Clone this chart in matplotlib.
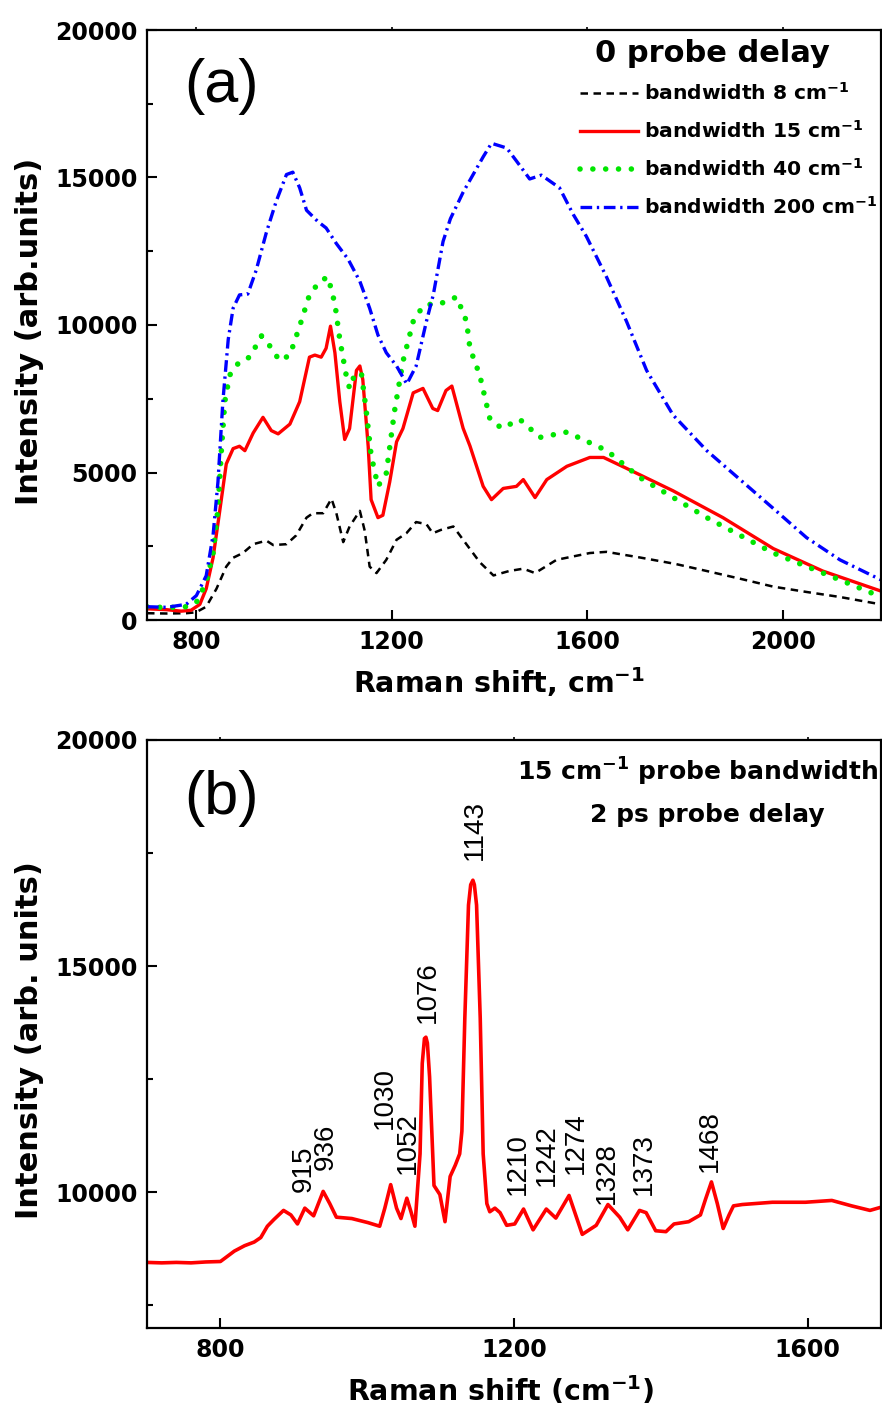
import matplotlib
matplotlib.use('Agg')
import matplotlib.pyplot as plt
from matplotlib.ticker import MultipleLocator

# panel (a): spectra at 0 probe delay for several probe bandwidths
x_bw8 = [700, 740, 780, 800, 821, 842, 862, 876, 896, 917, 944, 958, 985, 1005,
         1026, 1039, 1060, 1077, 1087, 1101, 1114, 1135, 1145, 1155, 1169, 1189,
         1210, 1230, 1250, 1271, 1284, 1300, 1326, 1346, 1380, 1408, 1440, 1469,
         1493, 1537, 1605, 1639, 1707, 1780, 1844, 1912, 1980, 2048, 2116, 2200]
y_bw8 = [230, 220, 230, 260, 450, 1060, 1810, 2110, 2270, 2570, 2690, 2540, 2570, 2870,
         3470, 3620, 3620, 4110, 3620, 2640, 3170, 3700, 3020, 1810, 1590, 2040,
         2720, 2940, 3320, 3250, 2940, 3050, 3170, 2720, 1960, 1510, 1660, 1740,
         1590, 2040, 2270, 2310, 2120, 1900, 1660, 1400, 1130, 950, 780, 530]

x_bw15 = [700, 740, 770, 790, 808, 821, 835, 848, 862, 876, 889, 900, 917, 937, 954,
          968, 992, 1012, 1032, 1043, 1056, 1066, 1075, 1084, 1094, 1104, 1114, 1128,
          1135, 1141, 1152, 1158, 1172, 1182, 1196, 1210, 1223, 1244, 1264, 1284, 1294,
          1311, 1323, 1346, 1360, 1387, 1404, 1428, 1455, 1469, 1493, 1517, 1558, 1605,
          1633, 1680, 1775, 1877, 1980, 2081, 2200]
y_bw15 = [380, 350, 300, 330, 530, 1060, 2110, 3620, 5290, 5810, 5890, 5740, 6340, 6870, 6420,
          6310, 6640, 7400, 8910, 8980, 8910, 9210, 9960, 9060, 7400, 6120, 6490, 8460,
          8610, 8150, 5890, 4080, 3470, 3550, 4680, 6040, 6490, 7700, 7850, 7170, 7100,
          7780, 7930, 6500, 5900, 4530, 4080, 4460, 4530, 4760, 4150, 4760, 5210, 5510,
          5510, 5140, 4380, 3470, 2420, 1660, 980]

x_bw40 = [700, 740, 780, 801, 821, 835, 845, 852, 859, 869, 889, 910, 934, 951, 971,
          992, 1012, 1032, 1053, 1070, 1084, 1094, 1107, 1114, 1124, 1138, 1148, 1158,
          1172, 1189, 1206, 1223, 1244, 1264, 1284, 1299, 1333, 1353, 1360, 1380, 1401,
          1425, 1462, 1503, 1558, 1640, 1707, 1844, 1980, 2116, 2200]
y_bw40 = [450, 420, 450, 600, 1280, 2260, 3780, 5740, 7400, 8300, 8760, 8910, 9630, 9290, 8790,
          8980, 9960, 11020, 11480, 11630, 10720, 9510, 8300, 7850, 8300, 8380, 7100, 5590,
          4530, 4980, 7100, 8760, 10120, 10640, 10720, 10720, 10950, 10120, 9210, 8300, 6800,
          6500, 6800, 6190, 6370, 5740, 4830, 3470, 2270, 1360, 785]

x_bw200 = [700, 740, 780, 801, 821, 835, 845, 855, 866, 876, 889, 906, 923, 944, 964,
           985, 998, 1012, 1026, 1049, 1066, 1087, 1111, 1135, 1155, 1172, 1189, 1210,
           1231, 1250, 1271, 1285, 1305, 1320, 1346, 1387, 1404, 1435, 1455, 1482, 1506,
           1543, 1571, 1598, 1639, 1680, 1721, 1775, 1844, 1912, 1980, 2048, 2116, 2200]
y_bw200 = [450, 430, 530, 830, 1500, 2870, 4680, 7400, 9510, 10570, 11020, 11050, 11850, 13140, 14190,
           15100, 15180, 14650, 13890, 13510, 13290, 12760, 12230, 11480, 10570, 9660, 9060, 8610,
           8000, 8610, 10120, 11020, 12830, 13600, 14500, 15700, 16160, 16000, 15560, 14950, 15080,
           14650, 13750, 13000, 11630, 10120, 8460, 6950, 5740, 4760, 3780, 2790, 2040, 1360]

# panel (b): 15 cm-1 bandwidth, 2 ps probe delay
x_b = [700, 720, 740, 760, 780, 800, 805, 819, 833, 846, 855, 864, 873, 886, 896, 905, 915,
       927, 940, 949, 958, 979, 1001, 1017, 1024, 1032, 1040, 1046, 1054, 1060, 1065, 1072,
       1075, 1078, 1080, 1082, 1085, 1091, 1099, 1106, 1113, 1120, 1126, 1129, 1133, 1138,
       1141, 1144, 1146, 1149, 1154, 1158, 1163, 1167, 1174, 1181, 1190, 1201, 1213, 1226,
       1244, 1257, 1275, 1293, 1312, 1328, 1344, 1355, 1371, 1380, 1393, 1407, 1418, 1438,
       1454, 1461, 1469, 1477, 1485, 1493, 1499, 1511, 1552, 1597, 1633, 1660, 1685, 1700]
y_b = [8450, 8440, 8450, 8440, 8460, 8470, 8530, 8700, 8820, 8900, 9000, 9250, 9400, 9600, 9500,
       9300, 9650, 9480, 10020, 9750, 9450, 9420, 9330, 9250, 9650, 10170, 9650, 9420, 9870,
       9550, 9250, 10850, 12850, 13400, 13430, 13300, 12550, 10150, 9950, 9350, 10350, 10600,
       10850, 11350, 13850, 16350, 16800, 16900, 16800, 16350, 13850, 10850, 9750, 9570, 9650,
       9550, 9270, 9300, 9630, 9170, 9630, 9430, 9930, 9070, 9270, 9730, 9450, 9170, 9600,
       9550, 9150, 9130, 9300, 9350, 9500, 9850, 10230, 9750, 9200, 9500, 9700, 9730, 9780,
       9780, 9820, 9700, 9600, 9670]

peak_labels = ['915', '936', '1030', '1052', '1076', '1143', '1210', '1242', '1274', '1328', '1373', '1468']
peak_label_x = [913, 944, 1024, 1055, 1083, 1147, 1205, 1245, 1284, 1326, 1377, 1467]
peak_label_y = [10000, 10500, 11400, 10400, 13750, 17350, 9950, 10150, 10400, 9750, 9950, 10450]

plt.rcParams['font.family'] = ['DejaVu Sans']
plt.rcParams['font.weight'] = 'bold'
plt.rcParams['axes.labelweight'] = 'bold'
plt.rcParams['mathtext.default'] = 'bf'

fig = plt.figure(figsize=(8.82, 14.12), dpi=100)
W, H = 882, 1412
ax1 = fig.add_axes([147 / W, 1 - 620 / H, 734 / W, 590 / H])
ax2 = fig.add_axes([147 / W, 1 - 1328 / H, 734 / W, 588 / H])

ax1.plot(x_bw8, y_bw8, color='black', lw=1.8, linestyle=(0, (3.0, 2.2)),
         label='bandwidth 8 cm$^{-1}$')
ax1.plot(x_bw15, y_bw15, color='red', lw=2.4, label='bandwidth 15 cm$^{-1}$')
ax1.plot(x_bw40, y_bw40, color='#00e600', lw=4.0, linestyle=(0, (0.01, 2.3)),
         dash_capstyle='round', label='bandwidth 40 cm$^{-1}$')
ax1.plot(x_bw200, y_bw200, color='blue', lw=2.4, linestyle=(0, (3.5, 1.4, 0.7, 1.4)),
         label='bandwidth 200 cm$^{-1}$')

ax1.set_xlim(700, 2200)
ax1.set_ylim(0, 20000)
ax1.xaxis.set_major_locator(MultipleLocator(400))
ax1.yaxis.set_major_locator(MultipleLocator(5000))
ax1.yaxis.set_minor_locator(MultipleLocator(2500))
ax1.set_xlabel('Raman shift, cm$^{-1}$', fontsize=20.5)
ax1.set_ylabel('Intensity (arb.units)', fontsize=22)
ax1.xaxis.set_label_coords(0.48, -0.076)
ax1.yaxis.set_label_coords(-0.14, 0.49)
ax1.text(0.102, 0.905, '(a)', transform=ax1.transAxes, fontsize=44,
         family='Liberation Sans', weight='normal', ha='center', va='center')
ax1.text(0.77, 0.96, '0 probe delay', transform=ax1.transAxes, fontsize=22,
         ha='center', va='center')
ax1.legend(loc='upper left', bbox_to_anchor=(0.59, 0.912), frameon=False,
           fontsize=14.6, handlelength=2.85, handletextpad=0.3, labelspacing=0.8,
           borderaxespad=0, borderpad=0)

ax2.plot(x_b, y_b, color='red', lw=2.6)
for lab, lx, ly in zip(peak_labels, peak_label_x, peak_label_y):
    ax2.text(lx, ly, lab, rotation=90, ha='center', va='bottom', fontsize=20,
             family=['Liberation Sans Narrow', 'Liberation Sans'], weight='normal')
ax2.set_xlim(700, 1700)
ax2.set_ylim(7000, 20000)
ax2.xaxis.set_major_locator(MultipleLocator(400))
ax2.yaxis.set_major_locator(MultipleLocator(5000))
ax2.yaxis.set_minor_locator(MultipleLocator(2500))
ax2.set_xlabel('Raman shift (cm$^{-1}$)', fontsize=20.5)
ax2.set_ylabel('Intensity (arb. units)', fontsize=22)
ax2.xaxis.set_label_coords(0.482, -0.078)
ax2.yaxis.set_label_coords(-0.14, 0.49)
ax2.text(0.102, 0.9, '(b)', transform=ax2.transAxes, fontsize=44,
         family='Liberation Sans', weight='normal', ha='center', va='center')
ax2.text(0.75, 0.945, '15 cm$^{-1}$ probe bandwidth', transform=ax2.transAxes,
         fontsize=18, ha='center', va='center')
ax2.text(0.763, 0.872, '2 ps probe delay', transform=ax2.transAxes,
         fontsize=18, ha='center', va='center')

for ax in (ax1, ax2):
    for sp in ax.spines.values():
        sp.set_linewidth(1.6)
    ax.tick_params(axis='both', which='major', direction='in', length=7, width=1.5,
                   labelsize=17, pad=7)
    ax.tick_params(axis='y', which='minor', direction='in', length=4, width=1.5)
    for t in ax.get_xticklabels() + ax.get_yticklabels():
        t.set_fontweight('bold')
    # tiny outward marks on the top spine
    top = ax.secondary_xaxis('top')
    top.set_xticks(ax.get_xticks())
    top.tick_params(direction='out', length=2.5, width=1.2, labeltop=False)
    top.spines['top'].set_visible(False)

fig.savefig('out.png', dpi=100)
